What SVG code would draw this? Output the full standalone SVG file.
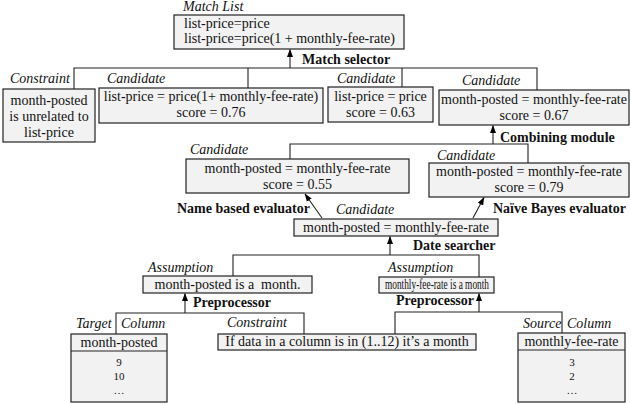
<svg xmlns="http://www.w3.org/2000/svg" width="631" height="404" viewBox="0 0 631 404" font-family="'Liberation Serif', 'Times New Roman', serif">
<defs>
<marker id="ah" viewBox="0 0 8 8" refX="7.5" refY="4" markerWidth="8" markerHeight="8" markerUnits="userSpaceOnUse" orient="auto">
<path d="M0,1 L8,4 L0,7 z" fill="#000"/>
</marker>
<style>
.box{fill:#f2f2f2;stroke:#222;stroke-width:1.2}
.t{font-family:'Liberation Serif','Times New Roman',serif;font-size:14px;fill:#111}
.c{text-anchor:middle}
.i{font-style:italic}
.b{font-weight:bold}
.v{font-size:11px}
.ln{fill:none;stroke:#222;stroke-width:1.1}
.ar{fill:none;stroke:#222;stroke-width:1.1;marker-end:url(#ah)}
</style>
</defs>
<rect width="631" height="404" fill="#fff"/>

<g id="connectors">
<polyline class="ln" points="74,89 74,68 537,68 537,90"/>
<line class="ln" x1="248" y1="68" x2="248" y2="88"/>
<line class="ln" x1="402" y1="68" x2="402" y2="87"/>
<line class="ar" x1="290" y1="68" x2="290" y2="49.5"/>
<polyline class="ln" points="290,159 290,144 528,144 528,163"/>
<line class="ar" x1="493" y1="144" x2="493" y2="125.5"/>
<line class="ar" x1="322" y1="218" x2="305" y2="194"/>
<line class="ar" x1="473" y1="218" x2="484" y2="197.5"/>
<polyline class="ln" points="233,276 233,255 479,255 479,277"/>
<line class="ar" x1="390" y1="255" x2="390" y2="236.5"/>
<polyline class="ln" points="116,334 116,313 304,313 304,334"/>
<line class="ar" x1="185" y1="313" x2="185" y2="293.5"/>
<polyline class="ln" points="395,334 395,312 562,312 562,333"/>
<line class="ar" x1="479" y1="312" x2="479" y2="293.5"/>
</g>

<g id="match-list">
<rect class="box" x="174" y="15" width="230" height="34"/>
<text class="t i" x="183" y="11">Match List</text>
<text class="t" x="184" y="28">list-price=price</text>
<text class="t" x="184" y="43">list-price=price(1 + monthly-fee-rate)</text>
</g>
<g id="match-selector">
<text class="t b" x="302" y="64">Match selector</text>
</g>

<g id="constraint-top">
<rect class="box" x="3" y="89" width="92" height="53"/>
<text class="t i" x="10" y="83">Constraint</text>
<text class="t c" x="49" y="105">month-posted</text>
<text class="t c" x="49" y="121">is unrelated to</text>
<text class="t c" x="49" y="137">list-price</text>
</g>

<g id="cand-076">
<rect class="box" x="99" y="88" width="224" height="35"/>
<text class="t i" x="107" y="83">Candidate</text>
<text class="t c" x="211" y="101">list-price = price(1+ monthly-fee-rate)</text>
<text class="t c" x="211" y="117">score = 0.76</text>
</g>

<g id="cand-063">
<rect class="box" x="328" y="87" width="105" height="35"/>
<text class="t i" x="337" y="83">Candidate</text>
<text class="t c" x="380.5" y="101">list-price = price</text>
<text class="t c" x="380.5" y="117">score = 0.63</text>
</g>

<g id="cand-067">
<rect class="box" x="439" y="90" width="190" height="35"/>
<text class="t i" x="462" y="85">Candidate</text>
<text class="t c" x="534" y="104">month-posted = monthly-fee-rate</text>
<text class="t c" x="534" y="120">score = 0.67</text>
</g>
<g id="combining-module">
<text class="t b" x="500" y="142">Combining module</text>
</g>

<g id="cand-055">
<rect class="box" x="186" y="159" width="223" height="34"/>
<text class="t i" x="190" y="154">Candidate</text>
<text class="t c" x="297.5" y="173">month-posted = monthly-fee-rate</text>
<text class="t c" x="297.5" y="189">score = 0.55</text>
</g>

<g id="cand-079">
<rect class="box" x="429" y="163" width="200" height="34"/>
<text class="t i" x="437" y="160">Candidate</text>
<text class="t c" x="529" y="176">month-posted = monthly-fee-rate</text>
<text class="t c" x="529" y="192">score = 0.79</text>
</g>

<g id="name-evaluator">
<text class="t b" x="177" y="213">Name based evaluator</text>
</g>
<g id="bayes-evaluator">
<text class="t b" x="493" y="213">Naïve Bayes evaluator</text>
</g>

<g id="cand-center">
<rect class="box" x="294" y="219" width="204" height="17"/>
<text class="t i" x="336" y="214">Candidate</text>
<text class="t c" x="396" y="232">month-posted = monthly-fee-rate</text>
</g>
<g id="date-searcher">
<text class="t b" x="413" y="250">Date searcher</text>
</g>

<g id="assumption-left">
<rect class="box" x="143" y="276" width="169" height="17"/>
<text class="t i" x="148" y="272">Assumption</text>
<text class="t c" x="227.5" y="289" xml:space="preserve">month-posted is a  month.</text>
</g>
<g id="assumption-right">
<rect class="box" x="379" y="277" width="115" height="16"/>
<text class="t i" x="388" y="272">Assumption</text>
<text class="t" x="385" y="289" textLength="104" lengthAdjust="spacingAndGlyphs">monthly-fee-rate is a month</text>
</g>

<g id="preprocessor-left">
<text class="t b" x="193" y="307">Preprocessor</text>
</g>
<g id="preprocessor-right">
<text class="t b" x="396" y="305">Preprocessor</text>
</g>

<g id="constraint-bottom">
<rect class="box" x="218" y="334" width="258" height="16"/>
<text class="t i" x="227" y="327">Constraint</text>
<text class="t c" x="347" y="346">If data in a column is in (1..12) it’s a month</text>
</g>

<g id="target-column">
<rect class="box" x="71" y="334" width="96" height="68"/>
<line class="ln" x1="71" y1="351" x2="167" y2="351"/>
<text class="t i" x="76" y="328">Target</text>
<text class="t i" x="121" y="328">Column</text>
<text class="t c" x="119" y="347">month-posted</text>
<text class="t c v" x="119" y="366">9</text>
<text class="t c v" x="119" y="380">10</text>
<text class="t c v" x="119" y="394">…</text>
</g>

<g id="source-column">
<rect class="box" x="518" y="333" width="107" height="69"/>
<line class="ln" x1="518" y1="350" x2="625" y2="350"/>
<text class="t i" x="523" y="328">Source</text>
<text class="t i" x="567" y="328">Column</text>
<text class="t c" x="571.5" y="346">monthly-fee-rate</text>
<text class="t c v" x="572" y="366">3</text>
<text class="t c v" x="572" y="380">2</text>
<text class="t c v" x="572" y="394">…</text>
</g>
</svg>
